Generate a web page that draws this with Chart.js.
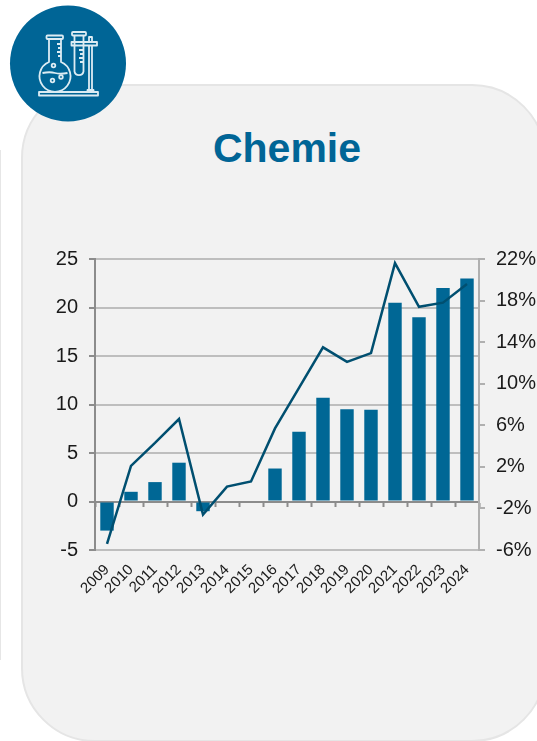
<!DOCTYPE html>
<html>
<head>
<meta charset="utf-8">
<title>Chemie</title>
<script src="https://cdn.jsdelivr.net/npm/chart.js@4"></script>
<style>
  html, body { margin: 0; padding: 0; background: #fff; overflow: hidden; }
  #page { position: relative; width: 537px; height: 741px; overflow: hidden; font-family: "Liberation Sans", Arial, sans-serif; }
  #sideLine { position: absolute; left: 0; top: 150px; width: 1px; height: 510px; background: #e6e6e6; }
  #card { position: absolute; left: 21px; top: 84px; width: 525px; height: 658px; box-sizing: border-box;
          background: #f2f2f2; border: 2px solid #e5e5e5; border-radius: 74px; }
  #title { position: absolute; left: 21px; width: 532px; top: 125px; text-align: center; color: #006596;
           font-size: 41px; line-height: 46px; font-weight: bold; }
  #icon { position: absolute; left: 0; top: 0; }
  canvas { position: absolute; left: 0; top: 0; }
</style>
</head>
<body>
<div id="page">
  <div id="sideLine"></div>
  <div id="card"></div>
  <div id="title">Chemie</div>
  <canvas id="chemieChart" width="537" height="741"></canvas>
  <svg id="icon" width="130" height="125" viewBox="0 0 130 125">
    <circle cx="68" cy="63.5" r="58" fill="#006596"/>
    <g fill="none" stroke="#dcecf3" stroke-width="1.8" stroke-linejoin="round">
      <rect x="39" y="92" width="59" height="3.5"/>
      <rect x="46.5" y="35.5" width="16.5" height="3.5" rx="1"/>
      <path d="M49 39V62A15.5 15.5 0 1 0 61 62V39"/>
      <path d="M42.5 73Q50 71.5 55 73T67.5 73"/>
      <path d="M57 44H61M58 48H61M57 52H61M58 56H61"/>
      <circle cx="53.5" cy="65.5" r="1.8"/>
      <circle cx="52.5" cy="80.5" r="1.8"/>
      <circle cx="61" cy="77" r="1.8"/>
      <rect x="72" y="32" width="14" height="3.5" rx="1"/>
      <rect x="71.5" y="42" width="25.5" height="3.5"/>
      <path d="M74.5 35.5V71.5A4.6 4.6 0 0 0 83.5 71.5V35.5"/>
      <path d="M79 50H83M80 54H83M79 58H83M80 62H83"/>
      <path d="M89 45.5V90M92 45.5V90M89 42V37H92V42"/>
      <path d="M87.5 92V90H93.5V92"/>
    </g>
  </svg>
</div>
<script>
// Values
var years = ['2009', '2010', '2011', '2012', '2013', '2014', '2015', '2016',
             '2017', '2018', '2019', '2020', '2021', '2022', '2023', '2024'];
var barValues = [-3, 1, 2, 4, -1, 0, 0, 3.4, 7.2, 10.7, 9.5, 9.45, 20.5, 19, 22, 23];
var lineValues = [-5.4, 2.1, 4.3, 6.6, -2.6, 0.1, 0.6, 5.7, 9.6, 13.5, 12.1, 12.95, 21.6, 17.4, 17.8, 19.6];
var leftTicks = [-5, 0, 5, 10, 15, 20, 25];
var rightTicks = [-6, -2, 2, 6, 10, 14, 18, 22];

var blue = '#006795';
var darkBlue = '#004f70';
var textColor = '#1a1a1a';

var ctx = document.getElementById('chemieChart').getContext('2d');
var chemieChart = new Chart(ctx, {
    type: 'bar',
    data: {
        labels: years,
        datasets: [{
            type: 'line',
            data: lineValues,
            yAxisID: 'yRight',
            borderColor: darkBlue,
            borderWidth: 2.5,
            pointRadius: 0,
            tension: 0,
            clip: false,
            order: 0
        }, {
            type: 'bar',
            data: barValues,
            yAxisID: 'yLeft',
            backgroundColor: blue,
            barPercentage: 0.56,
            categoryPercentage: 1,
            order: 1
        }]
    },
    options: {
        responsive: false,
        animation: false,
        layout: { padding: { left: 0, top: 259, right: 0, bottom: 0 } },
        plugins: { legend: { display: false }, tooltip: { enabled: false } },
        scales: {
            x: {
                position: 'bottom',
                offset: true,
                afterFit: function (scale) { scale.height = 191; },
                grid: { display: false },
                border: { display: false },
                ticks: {
                    autoSkip: false,
                    minRotation: 45,
                    maxRotation: 45,
                    padding: 3,
                    color: textColor,
                    font: { family: '"Liberation Sans"', size: 15 }
                }
            },
            // the axis line with its tick marks runs through zero
            xZero: {
                type: 'category',
                position: { yLeft: 0 },
                axis: 'x',
                offset: true,
                afterFit: function (scale) { scale.height = 0; },
                grid: { drawOnChartArea: false, drawTicks: true, tickLength: 4, tickColor: '#8c8c8c', tickWidth: 2 },
                border: { color: '#8c8c8c', width: 2 },
                ticks: { display: false }
            },
            yLeft: {
                position: 'left',
                min: -5,
                max: 25,
                afterFit: function (scale) { scale.width = 95; },
                afterBuildTicks: function (scale) {
                    scale.ticks = leftTicks.map(function (v) { return { value: v }; });
                },
                grid: { color: '#bebebe', lineWidth: 2, tickLength: 6, tickColor: '#8c8c8c' },
                border: { color: '#8c8c8c', width: 2 },
                ticks: {
                    padding: 11,
                    color: textColor,
                    font: { family: '"Liberation Sans"', size: 20 }
                }
            },
            yRight: {
                position: 'right',
                min: -6,
                max: 22,
                afterFit: function (scale) { scale.width = 58; },
                afterBuildTicks: function (scale) {
                    scale.ticks = rightTicks.map(function (v) { return { value: v }; });
                },
                grid: { drawOnChartArea: false, lineWidth: 2, tickLength: 6, tickColor: '#b0b0b0' },
                border: { color: '#b0b0b0', width: 2 },
                ticks: {
                    padding: 11,
                    color: textColor,
                    font: { family: '"Liberation Sans"', size: 20 },
                    callback: function (value) { return value + '%'; }
                }
            }
        }
    }
});
</script>
</body>
</html>
